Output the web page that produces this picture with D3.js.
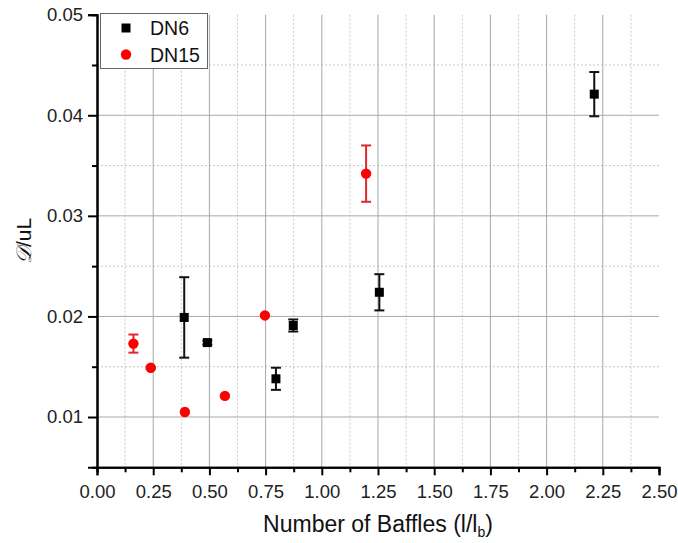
<!DOCTYPE html>
<html>
<head>
<meta charset="utf-8">
<script src="https://cdn.jsdelivr.net/npm/d3@7/dist/d3.min.js"></script>
<style>
  body { margin: 0; background: #fff; }
  svg { display: block; font-family: Arial, "Liberation Sans", sans-serif; }
</style>
</head>
<body>
<svg id="chart" width="678" height="543"></svg>
<script>
// DN6 series (black squares)
const dn6X = [0.388, 0.491, 0.796, 0.873, 1.256, 2.212];
const dn6Y = [0.0199, 0.0174, 0.0138, 0.0191, 0.0224, 0.0421];
const dn6Err = [0.0040, 0.0002, 0.0011, 0.0006, 0.0018, 0.0022];
// DN15 series (red circles)
const dn15X = [0.162, 0.239, 0.391, 0.569, 0.747, 1.197];
const dn15Y = [0.0173, 0.0149, 0.0105, 0.0121, 0.0201, 0.0342];
const dn15Err = [0.0009, 0.0001, 0, 0, 0, 0.0028];

const xTicks = [0, 0.25, 0.5, 0.75, 1, 1.25, 1.5, 1.75, 2, 2.25, 2.5];
const xMinor = [0.125, 0.375, 0.625, 0.875, 1.125, 1.375, 1.625, 1.875, 2.125, 2.375];
const yTicks = [0.01, 0.02, 0.03, 0.04, 0.05];
const yMinor = [0.015, 0.025, 0.035, 0.045];

function drawChart(svgId) {
  const svg = d3.select(svgId);
  const left = 97, right = 659, top = 14.7, bottom = 467.3;

  const x = d3.scaleLinear().domain([0, 2.5]).range([left, right]);
  const y = d3.scaleLinear().domain([0.005, 0.05]).range([bottom, top]);

  const g = svg.append("g");

  // minor grid (dotted)
  g.selectAll(".vminor").data(xMinor).enter().append("line")
    .attr("x1", d => x(d)).attr("x2", d => x(d))
    .attr("y1", top).attr("y2", bottom)
    .attr("stroke", "#c8c8c8").attr("stroke-dasharray", "2,2");
  g.selectAll(".hminor").data(yMinor).enter().append("line")
    .attr("x1", left).attr("x2", right)
    .attr("y1", d => y(d)).attr("y2", d => y(d))
    .attr("stroke", "#c8c8c8").attr("stroke-dasharray", "2,2");

  // major grid
  g.selectAll(".vmajor").data(xTicks.slice(1, -1)).enter().append("line")
    .attr("x1", d => x(d)).attr("x2", d => x(d))
    .attr("y1", top).attr("y2", bottom)
    .attr("stroke", "#a8a8a8");
  g.selectAll(".hmajor").data(yTicks.slice(0, -1)).enter().append("line")
    .attr("x1", left).attr("x2", right)
    .attr("y1", d => y(d)).attr("y2", d => y(d))
    .attr("stroke", "#a8a8a8");

  // axes
  const xAxis = g.append("g")
    .attr("transform", "translate(0," + bottom + ")")
    .call(d3.axisBottom(x).tickValues(xTicks).tickFormat(d3.format(".2f")).tickSize(8).tickPadding(6));
  const xAxisMinor = g.append("g")
    .attr("transform", "translate(0," + bottom + ")")
    .call(d3.axisBottom(x).tickValues(xMinor).tickFormat("").tickSize(5));
  const yAxis = g.append("g")
    .attr("transform", "translate(" + left + ",0)")
    .call(d3.axisLeft(y).tickValues(yTicks).tickFormat(d3.format(".2f")).tickSize(9).tickPadding(5));
  const yAxisMinor = g.append("g")
    .attr("transform", "translate(" + left + ",0)")
    .call(d3.axisLeft(y).tickValues(yMinor).tickFormat("").tickSize(5));

  [xAxis, xAxisMinor, yAxis, yAxisMinor].forEach(a => {
    a.select(".domain").attr("stroke", "#000").attr("stroke-width", 2);
    a.selectAll(".tick line").attr("stroke", "#000").attr("stroke-width", 2);
    a.selectAll("text").attr("font-size", "18.5px").attr("fill", "#222")
      .attr("font-family", "Arial, 'Liberation Sans', sans-serif");
  });
  xAxis.selectAll("text").attr("dy", "0.9em");

  // error bars
  function errorBars(xs, ys, es, color) {
    const eb = g.append("g").attr("stroke", color).attr("stroke-width", 2).attr("fill", "none");
    xs.forEach((xv, i) => {
      if (!es[i]) return;
      const cx = x(xv), y1 = y(ys[i] + es[i]), y2 = y(ys[i] - es[i]);
      eb.append("line").attr("x1", cx).attr("x2", cx).attr("y1", y1).attr("y2", y2);
      eb.append("line").attr("x1", cx - 5).attr("x2", cx + 5).attr("y1", y1).attr("y2", y1);
      eb.append("line").attr("x1", cx - 5).attr("x2", cx + 5).attr("y1", y2).attr("y2", y2);
    });
  }
  errorBars(dn6X, dn6Y, dn6Err, "#111");
  errorBars(dn15X, dn15Y, dn15Err, "#e0282c");

  // markers
  g.selectAll(".sq").data(dn6X).enter().append("rect")
    .attr("x", (d, i) => x(d) - 4.5).attr("y", (d, i) => y(dn6Y[i]) - 4.5)
    .attr("width", 9).attr("height", 9).attr("fill", "#000");
  g.selectAll(".ci").data(dn15X).enter().append("circle")
    .attr("cx", (d, i) => x(d)).attr("cy", (d, i) => y(dn15Y[i]))
    .attr("r", 5.2).attr("fill", "#f00");

  // legend
  const lg = svg.append("g");
  lg.append("rect").attr("x", 100.5).attr("y", 13.5).attr("width", 107).attr("height", 55)
    .attr("fill", "#fff").attr("stroke", "#666").attr("stroke-width", 1);
  lg.append("rect").attr("x", 121.5).attr("y", 23.5).attr("width", 9).attr("height", 9).attr("fill", "#000");
  lg.append("circle").attr("cx", 126).attr("cy", 54.5).attr("r", 5.2).attr("fill", "#f00");
  lg.append("text").attr("x", 150).attr("y", 35).attr("font-size", "19.5px").attr("fill", "#111").text("DN6");
  lg.append("text").attr("x", 150).attr("y", 61.5).attr("font-size", "19.5px").attr("fill", "#111").text("DN15");

  // axis titles
  const xt = svg.append("text").attr("x", (left + right) / 2).attr("y", 532)
    .attr("text-anchor", "middle").attr("font-size", "23px").attr("fill", "#111");
  xt.append("tspan").text("Number of Baffles (l/l");
  xt.append("tspan").attr("font-size", "14px").attr("dy", 5).text("b");
  xt.append("tspan").attr("dy", -5).text(")");

  const yt = svg.append("text").attr("transform", "translate(31,241) rotate(-90)")
    .attr("text-anchor", "middle").attr("font-size", "21px").attr("fill", "#111");
  yt.append("tspan").attr("font-family", "'DejaVu Serif', serif").attr("font-style", "italic").text("\u{1D49F}");
  yt.append("tspan").text("/uL");
}

drawChart("#chart");
</script>
</body>
</html>
